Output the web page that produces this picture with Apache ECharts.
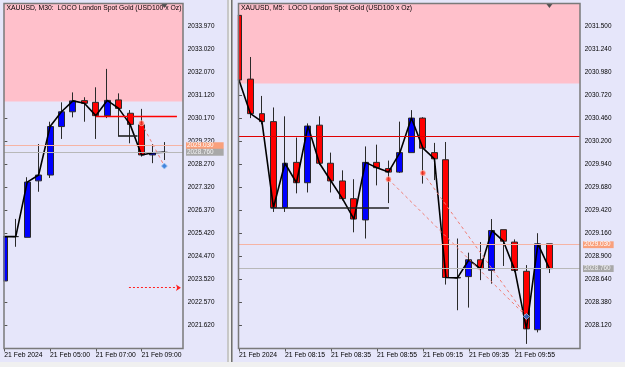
<!DOCTYPE html>
<html><head><meta charset="utf-8">
<script src="https://cdn.jsdelivr.net/npm/echarts@6/dist/echarts.min.js"></script>
<style>html,body{margin:0;padding:0;background:#f0f0f0}#c{width:625px;height:367px}</style>
</head><body><div id="c"></div>
<script>
// ---------- Left panel: XAUUSD M30 ----------
const leftTitle = 'XAUUSD, M30:  LOCO London Spot Gold (USD100 x Oz)';
const leftTimes = ['03:00','03:30','04:00','04:30','05:00','05:30','06:00','06:30','07:00','07:30','08:00','08:30','09:00','09:30','10:00'];
const leftOpen  = [2023.45, 2025.28, 2025.25, 2027.58, 2027.82, 2029.82, 2030.43, 2030.89, 2030.82, 2030.27, 2030.92, 2030.37, 2029.89, 2028.65, 2028.75];
const leftClose = [2025.28, 2025.28, 2027.53, 2027.82, 2029.82, 2030.43, 2030.88, 2030.78, 2030.27, 2030.90, 2030.57, 2029.91, 2028.65, 2028.74, 2028.76];
const leftLow   = [2023.45, 2024.86, 2025.25, 2027.13, 2027.70, 2029.31, 2030.20, 2030.02, 2029.31, 2030.17, 2029.40, 2029.13, 2028.58, 2028.31, 2028.44];
const leftHigh  = [2025.28, 2026.01, 2027.73, 2029.10, 2030.02, 2030.82, 2031.23, 2031.03, 2031.44, 2032.20, 2031.19, 2030.50, 2030.55, 2029.10, 2029.18];
const leftTickIdx = [0, 4, 8, 12];
const leftTickLabels = ['21 Feb 2024', '21 Feb 05:00', '21 Feb 07:00', '21 Feb 09:00'];
const leftPriceTicks = [2021.62, 2022.57, 2023.52, 2024.47, 2025.42, 2026.37, 2027.32, 2028.27, 2029.22, 2030.17, 2031.12, 2032.07, 2033.02, 2033.97];
const leftTradeEntry = [[12, 2029.96]];
const leftTradeExit  = [[14, 2028.19]];

// ---------- Right panel: XAUUSD M5 ----------
const rightTitle = 'XAUUSD, M5:  LOCO London Spot Gold (USD100 x Oz)';
const rightTimes = ['07:55','08:00','08:05','08:10','08:15','08:20','08:25','08:30','08:35','08:40','08:45','08:50','08:55','09:00','09:05','09:10','09:15','09:20','09:25','09:30','09:35','09:40','09:45','09:50','09:55','10:00','10:05','10:10'];
const rightOpen  = [2031.62, 2030.90, 2030.51, 2030.42, 2029.45, 2029.96, 2029.73, 2030.38, 2029.95, 2029.75, 2029.55, 2029.31, 2029.96, 2029.89, 2029.85, 2030.07, 2030.46, 2030.07, 2029.99, 2028.66, 2028.67, 2028.86, 2028.74, 2029.20, 2029.06, 2028.73, 2028.07, 2029.04];
const rightClose = [2030.89, 2030.51, 2030.42, 2029.45, 2029.95, 2029.73, 2030.37, 2029.95, 2029.75, 2029.55, 2029.32, 2029.96, 2029.90, 2029.85, 2030.07, 2030.46, 2030.12, 2030.00, 2028.66, 2028.655, 2028.86, 2028.76, 2029.19, 2029.07, 2028.74, 2028.08, 2029.04, 2028.76];
const rightLow   = [2030.89, 2030.46, 2030.39, 2029.40, 2029.40, 2029.61, 2029.62, 2029.93, 2029.62, 2029.53, 2029.17, 2029.10, 2029.70, 2029.50, 2029.84, 2030.07, 2029.72, 2029.76, 2028.58, 2028.29, 2028.32, 2028.63, 2028.59, 2028.79, 2028.72, 2027.91, 2028.04, 2028.71];
const rightHigh  = [2031.63, 2031.15, 2030.71, 2030.58, 2030.48, 2030.24, 2030.40, 2030.48, 2030.07, 2029.87, 2029.77, 2030.14, 2030.16, 2029.98, 2030.42, 2030.55, 2030.47, 2030.18, 2030.19, 2029.10, 2028.94, 2029.06, 2029.32, 2029.20, 2029.09, 2028.80, 2029.16, 2029.04];
const rightTickIdx = [0, 4, 8, 12, 16, 20, 24];
const rightTickLabels = ['21 Feb 2024', '21 Feb 08:15', '21 Feb 08:35', '21 Feb 08:55', '21 Feb 09:15', '21 Feb 09:35', '21 Feb 09:55'];
const rightPriceTicks = [2028.12, 2028.38, 2028.64, 2028.90, 2029.16, 2029.42, 2029.68, 2029.94, 2030.20, 2030.46, 2030.72, 2030.98, 2031.24, 2031.50];
const rightTradeEntry = [[13, 2029.77], [16, 2029.84]];
const rightTradeExit  = [[25, 2028.22]];

// ---------- shared price levels ----------
const askPrice = 2029.03;
const bidPrice = 2028.76;
const zoneLow = 2030.85;
const redLevel = 2030.26;
const blackLevel = 2029.45;
const stopLevel = 2023.17;

const FONT = "'Liberation Sans', Arial, sans-serif";
const LAV = '#e6e6fa';

const panels = [
  { grid: {left: 4, top: 3.5, width: 179, height: 345}, xMin: -0.03, xMax: 15.63, yMin: 2020.663, yMax: 2034.898,
    title: leftTitle, open: leftOpen, close: leftClose, low: leftLow, high: leftHigh,
    tickIdx: leftTickIdx, tickLabels: leftTickLabels, priceTicks: leftPriceTicks,
    entries: leftTradeEntry, exits: leftTradeExit, padR: 10,
    redRange: [8, 15.1], blackRange: [10, 11.65], stopRange: [10.9, 15.45] },
  { grid: {left: 238.5, top: 3.5, width: 341.5, height: 345}, xMin: -0.04, xMax: 29.66, yMin: 2027.858, yMax: 2031.754,
    title: rightTitle, open: rightOpen, close: rightClose, low: rightLow, high: rightHigh,
    tickIdx: rightTickIdx, tickLabels: rightTickLabels, priceTicks: rightPriceTicks,
    entries: rightTradeEntry, exits: rightTradeExit, padR: 3,
    redRange: null, blackRange: [2.75, 13.05], stopRange: null }
];

const grids = [], xAxes = [], yAxes = [], series = [], titles = [];
panels.forEach((p, k) => {
  grids.push(Object.assign({show: false}, p.grid));
  titles.push({ text: p.title, left: p.grid.left + 2.5, top: 5, padding: 0, z: 20,
    textStyle: {fontSize: 6.8, fontWeight: 'normal', color: '#000', fontFamily: FONT} });
  xAxes.push({ type: 'value', gridIndex: k, min: p.xMin, max: p.xMax,
    axisLine: {show: false},
    axisTick: {show: true, customValues: p.tickIdx, length: 3, lineStyle: {color: '#555', width: 1}},
    axisLabel: {show: true, customValues: p.tickIdx, align: 'left', margin: 3.5,
      formatter: v => p.tickLabels[p.tickIdx.indexOf(Math.round(v))] || '',
      fontSize: 6.8, color: '#000', fontFamily: FONT},
    splitLine: {show: false} });
  yAxes.push({ type: 'value', gridIndex: k, position: 'right', min: p.yMin, max: p.yMax, scale: true,
    axisLine: {show: false},
    axisTick: {show: true, customValues: p.priceTicks, length: 3, lineStyle: {color: '#555', width: 1}},
    axisLabel: {show: true, customValues: p.priceTicks, margin: 4.8, formatter: v => v.toFixed(3),
      fontSize: 6.4, color: '#000', fontFamily: FONT},
    splitLine: {show: false} });

  const lastIdx = p.close.length - 1;
  const lines = [
    { yAxis: askPrice, lineStyle: {color: '#f6b4a4', width: 1, type: 'solid'},
      label: {show: true, position: 'end', distance: 3, formatter: askPrice.toFixed(3), color: '#fff',
        backgroundColor: '#f9a07c', padding: [1, p.padR, 0, 1], fontSize: 6.4, lineHeight: 5.8, fontFamily: FONT} },
    { yAxis: bidPrice, lineStyle: {color: '#b8b8b8', width: 1, type: 'solid'},
      label: {show: true, position: 'end', distance: 3, formatter: bidPrice.toFixed(3), color: '#f4f4f4',
        backgroundColor: '#a8a8a8', padding: [1, p.padR, 0, 1], fontSize: 6.4, lineHeight: 5.8, fontFamily: FONT} }
  ];
  if (p.redRange) {
    lines.push([{coord: [p.redRange[0], redLevel], lineStyle: {color: '#ff0000', width: 1.3, type: 'solid'}}, {coord: [p.redRange[1], redLevel]}]);
  } else {
    lines.push({ yAxis: redLevel, lineStyle: {color: '#e00000', width: 1.2, type: 'solid'} });
  }
  lines.push([{coord: [p.blackRange[0], blackLevel], lineStyle: {color: '#202020', width: 1.6, type: 'solid'}}, {coord: [p.blackRange[1], blackLevel]}]);
  if (p.stopRange) {
    lines.push([{coord: [p.stopRange[0], stopLevel], symbol: 'none', lineStyle: {color: '#ff2020', width: 1, type: [2, 2]}},
                {coord: [p.stopRange[1], stopLevel], symbol: 'arrow', symbolSize: 5}]);
  }

  series.push({
    type: 'candlestick', xAxisIndex: k, yAxisIndex: k, z: 2, clip: true,
    data: p.open.map((o, i) => [i, o, p.close[i], p.low[i], p.high[i]]),
    barWidth: 6.4,
    itemStyle: {color: '#0000ff', color0: '#ff0000', borderColor: '#2a2a2a', borderColor0: '#2a2a2a', borderWidth: 1},
    markArea: { silent: true, itemStyle: {color: '#ffc0cb'}, data: [[{yAxis: zoneLow}, {yAxis: p.yMax}]] },
    markLine: { silent: true, animation: false, symbol: ['none', 'none'], label: {show: false}, data: lines },
    markPoint: { silent: true, animation: false, label: {show: false},
      data: [{coord: [lastIdx, p.yMax], symbol: 'triangle', symbolRotate: 180, symbolSize: [6, 4], symbolOffset: [0, 2.5], itemStyle: {color: '#505050'}}] }
  });
  series.push({
    type: 'line', xAxisIndex: k, yAxisIndex: k, z: 3, symbol: 'none', clip: true,
    data: p.close.map((c, i) => [i, c]),
    lineStyle: {color: '#000', width: 1.6}
  });
  p.entries.forEach(e => {
    series.push({ type: 'line', xAxisIndex: k, yAxisIndex: k, z: 4, symbol: 'none',
      data: [e, p.exits[0]], lineStyle: {color: '#f07c74', width: 1, type: [3, 3]} });
  });
  series.push({ type: 'scatter', xAxisIndex: k, yAxisIndex: k, z: 5, symbol: 'circle', symbolSize: 5,
    data: p.entries, itemStyle: {color: '#ff2a1a', borderColor: '#ffb0a0', borderWidth: 1} });
  series.push({ type: 'scatter', xAxisIndex: k, yAxisIndex: k, z: 5, symbol: 'diamond', symbolSize: 6,
    data: p.exits, itemStyle: {color: '#1a6fd8', borderColor: '#a8c8f0', borderWidth: 1} });
});

const chart = echarts.init(document.getElementById('c'), null, {renderer: 'canvas'});
chart.setOption({
  backgroundColor: '#f0f0f0',
  animation: false,
  title: titles,
  grid: grids,
  xAxis: xAxes,
  yAxis: yAxes,
  series: series,
  graphic: [
    {type: 'rect', z: -10, silent: true, shape: {x: 0, y: 0, width: 227, height: 362}, style: {fill: LAV}},
    {type: 'rect', z: -10, silent: true, shape: {x: 233, y: 0, width: 392, height: 362}, style: {fill: LAV}},
    {type: 'line', z: -9, silent: true, shape: {x1: 228, y1: 0, x2: 228, y2: 362}, style: {stroke: '#a0a0a0', lineWidth: 1}},
    {type: 'line', z: -9, silent: true, shape: {x1: 231.5, y1: 0, x2: 231.5, y2: 362}, style: {stroke: '#707070', lineWidth: 1}},
    {type: 'line', z: -9, silent: true, shape: {x1: 232.5, y1: 0, x2: 232.5, y2: 362}, style: {stroke: '#a8a8a8', lineWidth: 1}},
    // masks hiding the parts of the first candles that fall outside the plot areas
    {type: 'rect', z: 50, silent: true, shape: {x: 0, y: 3, width: 3.3, height: 346}, style: {fill: LAV}},
    {type: 'rect', z: 50, silent: true, shape: {x: 233, y: 3, width: 4.8, height: 346}, style: {fill: LAV}},
    {type: 'rect', z: 100, silent: true, shape: {x: 4, y: 3.5, width: 179, height: 345}, style: {fill: null, stroke: '#7a7a7a', lineWidth: 1.5}},
    {type: 'rect', z: 100, silent: true, shape: {x: 238.5, y: 3.5, width: 341.5, height: 345}, style: {fill: null, stroke: '#7a7a7a', lineWidth: 1.5}}
  ]
});
</script>
</body></html>
